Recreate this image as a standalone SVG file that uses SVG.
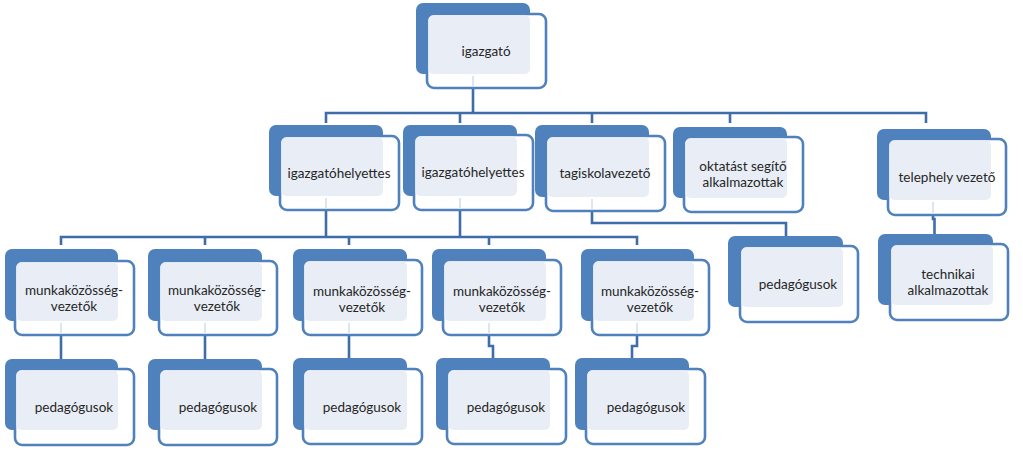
<svg xmlns="http://www.w3.org/2000/svg" width="1023" height="472" viewBox="0 0 1023 472">
<style>
.bk{fill:#4F81BD}
.fr{fill:#FFFFFF;stroke:#4F81BD;stroke-width:2.6}
.lt{fill:#E9EEF6}
.tx{font-family:Lato,"Liberation Sans",sans-serif;font-size:13.5px;fill:#262626;text-anchor:middle}
.cn{fill:none;stroke:#3F6DAA;stroke-width:2.6}
.pl{fill:none;stroke:#DCE5F1;stroke-width:2}
</style>
<rect width="1023" height="472" fill="#FFFFFF"/>
<g id="connectors">
<path class="cn" d="M473,88 V113 M326,123 V113 H926 V123 M460,113 V123 M592,113 V123 M730,113 V123"/>
<path class="cn" d="M326,210 V237 M460,210 V237 M61,245 V237 H637 V245 M205,237 V245 M349,237 V245 M489,237 V245"/>
<path class="cn" d="M592,211 V223 H786 V236"/>
<path class="cn" d="M933,215 V219 H934.5 V234"/>
<path class="cn" d="M61,335 V359 M205,335 V359 M349,334 V358 M489,334 V346 H493 V358 M637,334 V346 H632 V358"/>
</g>
<g id="n-igazgato"><rect class="bk" x="416" y="3" width="114" height="71" rx="7"/><rect class="fr" x="427" y="14" width="119" height="74" rx="7"/><rect class="lt" x="428.3" y="15.3" width="101.7" height="58.7" rx="5"/><path class="pl" d="M473,76 V87"/><text class="tx" x="486" y="56">igazgató</text></g>
<g id="n-igh1"><rect class="bk" x="269" y="125" width="114" height="71" rx="7"/><rect class="fr" x="280" y="136" width="119" height="74" rx="7"/><rect class="lt" x="281.3" y="137.3" width="101.7" height="58.7" rx="5"/><path class="pl" d="M326,198 V209"/><text class="tx" x="339" y="178">igazgatóhelyettes</text></g>
<g id="n-igh2"><rect class="bk" x="403" y="125" width="114" height="71" rx="7"/><rect class="fr" x="414" y="135" width="119" height="75" rx="7"/><rect class="lt" x="415.3" y="136.3" width="101.7" height="59.7" rx="5"/><path class="pl" d="M460,198 V209"/><text class="tx" x="473" y="177">igazgatóhelyettes</text></g>
<g id="n-tagiskola"><rect class="bk" x="535" y="125" width="114" height="72" rx="7"/><rect class="fr" x="546" y="136" width="119" height="75" rx="7"/><rect class="lt" x="547.3" y="137.3" width="101.7" height="59.7" rx="5"/><path class="pl" d="M592,199 V210"/><text class="tx" x="605" y="178">tagiskolavezető</text></g>
<g id="n-oktatast"><rect class="bk" x="673" y="127" width="114" height="71" rx="7"/><rect class="fr" x="684" y="137" width="119" height="75" rx="7"/><rect class="lt" x="685.3" y="138.3" width="101.7" height="59.7" rx="5"/><text class="tx" x="743" y="171">oktatást segítő</text><text class="tx" x="743" y="187">alkalmazottak</text></g>
<g id="n-telephely"><rect class="bk" x="877" y="129" width="114" height="71" rx="7"/><rect class="fr" x="888" y="139" width="118" height="76" rx="7"/><rect class="lt" x="889.3" y="140.3" width="101.7" height="59.7" rx="5"/><path class="pl" d="M933,202 V214"/><text class="tx" x="947" y="182">telephely vezető</text></g>
<g id="n-ped-tag"><rect class="bk" x="728" y="236" width="115" height="71" rx="7"/><rect class="fr" x="740" y="246" width="118" height="76" rx="7"/><rect class="lt" x="741.3" y="247.3" width="101.7" height="59.7" rx="5"/><text class="tx" x="798" y="289">pedagógusok</text></g>
<g id="n-technikai"><rect class="bk" x="878" y="234" width="115" height="71" rx="7"/><rect class="fr" x="890" y="244" width="118" height="76" rx="7"/><rect class="lt" x="891.3" y="245.3" width="101.7" height="59.7" rx="5"/><text class="tx" x="948" y="279">technikai</text><text class="tx" x="948" y="295">alkalmazottak</text></g>
<g id="n-mk1"><rect class="bk" x="5" y="249" width="113" height="72" rx="7"/><rect class="fr" x="15" y="261" width="119" height="74" rx="7"/><rect class="lt" x="16.3" y="262.3" width="101.7" height="58.7" rx="5"/><path class="pl" d="M61,323 V334"/><text class="tx" x="74" y="295">munkaközösség-</text><text class="tx" x="74" y="311">vezetők</text></g>
<g id="n-mk2"><rect class="bk" x="148" y="249" width="114" height="72" rx="7"/><rect class="fr" x="159" y="261" width="118" height="74" rx="7"/><rect class="lt" x="160.3" y="262.3" width="101.7" height="58.7" rx="5"/><path class="pl" d="M205,323 V334"/><text class="tx" x="217" y="295">munkaközösség-</text><text class="tx" x="217" y="311">vezetők</text></g>
<g id="n-mk3"><rect class="bk" x="293" y="249" width="114" height="72" rx="7"/><rect class="fr" x="303" y="260" width="119" height="75" rx="7"/><rect class="lt" x="304.3" y="261.3" width="102.7" height="59.7" rx="5"/><path class="pl" d="M349,323 V334"/><text class="tx" x="362" y="296">munkaközösség-</text><text class="tx" x="362" y="312">vezetők</text></g>
<g id="n-mk4"><rect class="bk" x="432" y="249" width="114" height="72" rx="7"/><rect class="fr" x="443" y="260" width="118" height="75" rx="7"/><rect class="lt" x="444.3" y="261.3" width="101.7" height="59.7" rx="5"/><path class="pl" d="M489,323 V334"/><text class="tx" x="502" y="296">munkaközösség-</text><text class="tx" x="502" y="312">vezetők</text></g>
<g id="n-mk5"><rect class="bk" x="581" y="249" width="113" height="72" rx="7"/><rect class="fr" x="592" y="260" width="117" height="75" rx="7"/><rect class="lt" x="593.3" y="261.3" width="100.7" height="59.7" rx="5"/><path class="pl" d="M637,323 V334"/><text class="tx" x="650" y="296">munkaközösség-</text><text class="tx" x="650" y="312">vezetők</text></g>
<g id="n-ped1"><rect class="bk" x="5" y="359" width="113" height="71" rx="7"/><rect class="fr" x="15" y="369" width="119" height="76" rx="7"/><rect class="lt" x="16.3" y="370.3" width="101.7" height="59.7" rx="5"/><text class="tx" x="74" y="412">pedagógusok</text></g>
<g id="n-ped2"><rect class="bk" x="148" y="359" width="114" height="71" rx="7"/><rect class="fr" x="159" y="369" width="118" height="76" rx="7"/><rect class="lt" x="160.3" y="370.3" width="101.7" height="59.7" rx="5"/><text class="tx" x="218" y="412">pedagógusok</text></g>
<g id="n-ped3"><rect class="bk" x="293" y="358" width="114" height="72" rx="7"/><rect class="fr" x="303" y="369" width="119" height="75" rx="7"/><rect class="lt" x="304.3" y="370.3" width="102.7" height="59.7" rx="5"/><text class="tx" x="362" y="412">pedagógusok</text></g>
<g id="n-ped4"><rect class="bk" x="436" y="358" width="114" height="72" rx="7"/><rect class="fr" x="447" y="369" width="119" height="75" rx="7"/><rect class="lt" x="448.3" y="370.3" width="101.7" height="59.7" rx="5"/><text class="tx" x="506" y="412">pedagógusok</text></g>
<g id="n-ped5"><rect class="bk" x="575" y="358" width="114" height="72" rx="7"/><rect class="fr" x="586" y="369" width="119" height="75" rx="7"/><rect class="lt" x="587.3" y="370.3" width="101.7" height="59.7" rx="5"/><text class="tx" x="646" y="412">pedagógusok</text></g>
</svg>
